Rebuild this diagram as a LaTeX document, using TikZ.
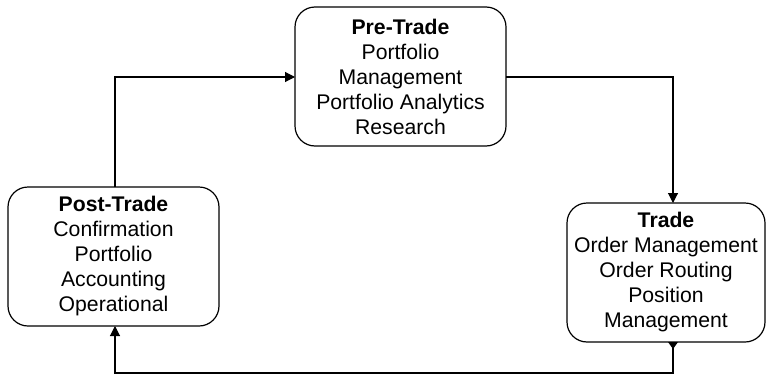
\documentclass[tikz,border=0pt]{standalone}
\usepackage{fontspec}
\setmainfont{Liberation Sans}
\usetikzlibrary{arrows.meta,calc}
\tikzset{
  stagebox/.style={draw, line width=1.2pt, rounded corners=20pt, align=center,
    font=\fontsize{21.2}{25}\selectfont, minimum height=139pt, inner sep=0pt},
  flow/.style={line width=1.1pt, -{Triangle[length=10pt,width=10pt]}}
}
\begin{document}
\begin{tikzpicture}[x=1pt,y=-1pt]
\useasboundingbox (0,0) rectangle (766,375);
\node[stagebox, minimum width=211pt] (pre) at (400.5,76.5)
  {\textbf{Pre-Trade}\\Portfolio\\Management\\Portfolio Analytics\\Research};
\node[stagebox, minimum width=211pt] (post) at (113.5,256.5)
  {\textbf{Post-Trade}\\Confirmation\\Portfolio\\Accounting\\Operational};
\node[stagebox, minimum width=198pt] (trade) at (666,272.5)
  {\textbf{Trade}\\Order Management\\Order Routing\\Position\\Management};
\coordinate (postTop) at (115,187);
\coordinate (postBot) at (115,326);
\coordinate (tradeTop) at (673,203);
\coordinate (tradeBot) at (673,342);
\coordinate (preW) at (295,77);
\coordinate (preE) at (506,77);
\draw[flow] (postTop) -- (115,77) -- (preW);
\draw[flow] (preE) -- (673,77) -- (tradeTop);
\draw[flow] (tradeBot) -- (673,373) -- (115,373) -- (postBot);
\fill ($(tradeBot)+(-5,0)$) -- ($(tradeBot)+(5,0)$) -- ($(tradeBot)+(0,7)$) -- cycle;
\end{tikzpicture}
\end{document}
